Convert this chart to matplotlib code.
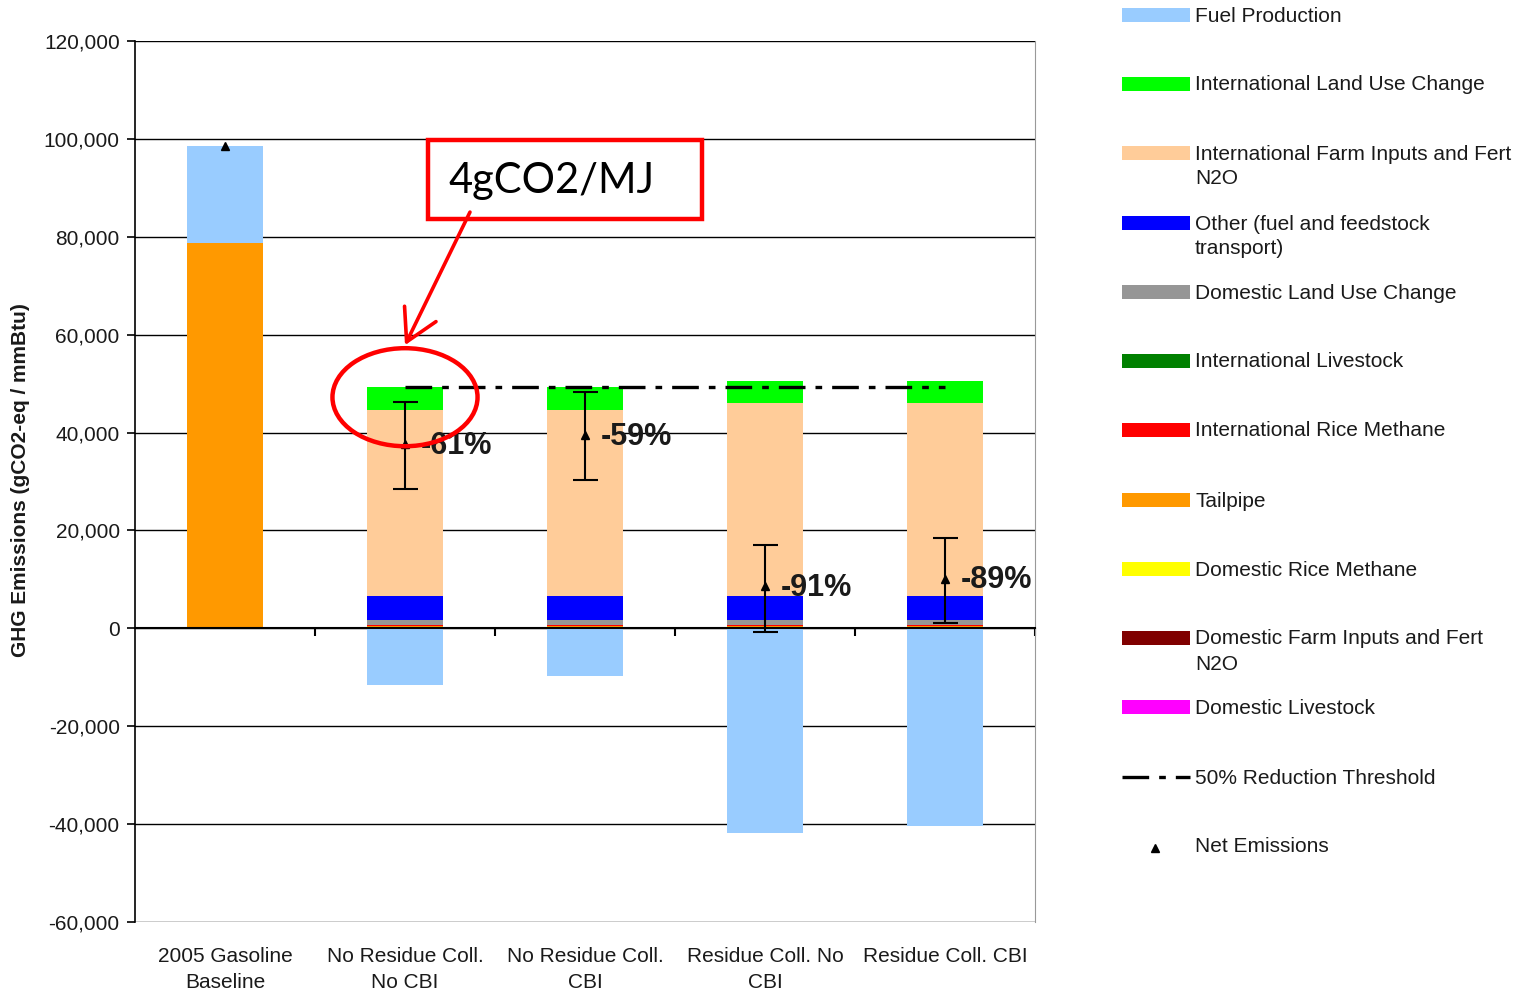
import matplotlib
matplotlib.use("Agg")
import matplotlib.pyplot as plt
from matplotlib.patches import Rectangle, Ellipse, FancyArrowPatch
from matplotlib.lines import Line2D
import matplotlib.transforms as mtransforms
from matplotlib.ticker import FuncFormatter
import numpy as np

plt.rcParams['font.family'] = ['Liberation Sans', 'DejaVu Sans']

categories = ["2005 Gasoline\nBaseline", "No Residue Coll.\nNo CBI", "No Residue Coll.\nCBI",
              "Residue Coll. No\nCBI", "Residue Coll. CBI"]

# stacked components (gCO2-eq / mmBtu)
tailpipe        = [78700, 400, 400, 400, 400]
intl_rice       = [0, 350, 350, 350, 350]
domestic_luc    = [0, 900, 900, 900, 900]
other_transport = [0, 5000, 5000, 5000, 5000]
intl_farm       = [0, 37900, 37900, 39300, 39300]
intl_luc        = [0, 4700, 4700, 4500, 4500]
fuel_production = [19800, -11650, -9800, -41900, -40300]

err_low  = [np.nan, 28400, 30250, -800, 1000]
err_high = [np.nan, 46200, 48200, 17000, 18400]
pct_labels = ["", "-61%", "-59%", "-91%", "-89%"]

legend_labels = ["Fuel Production", "International Land Use Change",
                 "International Farm Inputs and Fert\nN2O", "Other (fuel and feedstock\ntransport)",
                 "Domestic Land Use Change", "International Livestock",
                 "International Rice Methane", "Tailpipe", "Domestic Rice Methane",
                 "Domestic Farm Inputs and Fert\nN2O", "Domestic Livestock",
                 "50% Reduction Threshold", "Net Emissions"]
legend_colors = ["#99CCFF", "#00FF00", "#FFCC99", "#0000FF", "#969696", "#008000",
                 "#FF0000", "#FF9900", "#FFFF00", "#800000", "#FF00FF"]

W, H = 1523, 991
fig = plt.figure(figsize=(W / 100, H / 100), dpi=100)
ax = fig.add_axes([135 / W, 1 - 922 / H, 900 / W, 881 / H])

x = np.arange(len(categories))
bw = 0.42
pos_stack = [(tailpipe, "#FF9900"), (intl_rice, "#FF0000"), (domestic_luc, "#969696"),
             (other_transport, "#0000FF"), (intl_farm, "#FFCC99"), (intl_luc, "#00FF00")]
bottom = np.zeros(len(x))
for vals, col in pos_stack:
    v = np.array(vals, float)
    ax.bar(x, v, bw, bottom=bottom, color=col, zorder=2, linewidth=0)
    bottom += v
fp = np.array(fuel_production, float)
pos_fp = np.where(fp > 0, fp, 0)
neg_fp = np.where(fp < 0, fp, 0)
ax.bar(x, pos_fp, bw, bottom=bottom, color="#99CCFF", zorder=2, linewidth=0)
ax.bar(x, neg_fp, bw, bottom=0, color="#99CCFF", zorder=2, linewidth=0)
net = bottom + fp

# error bars
el = np.array(err_low); eh = np.array(err_high)
m = ~np.isnan(el)
ax.errorbar(x[m], net[m], yerr=[net[m] - el[m], eh[m] - net[m]], fmt='none',
            ecolor='black', elinewidth=1.5, capsize=9, capthick=1.5, zorder=5)
ax.plot(x, net, linestyle='none', marker='^', color='black', markersize=6, zorder=6)

for xi, n, lab in zip(x, net, pct_labels):
    if lab:
        ax.annotate(lab, (xi, n), xytext=(11, -1), textcoords='offset points',
                    ha='left', va='center', fontsize=22, fontweight='bold', color='#1a1a1a', zorder=7)

# threshold
threshold = 0.5 * net[0]
ax.plot([x[1], x[-1]], [threshold, threshold], color='black', lw=2.4,
        linestyle=(0, (8, 3, 2, 3)), zorder=4)

ax.set_xlim(-0.5, len(x) - 0.5)
ax.set_ylim(-60000, 120000)
ax.set_yticks(np.arange(-60000, 120001, 20000))
ax.yaxis.set_major_formatter(FuncFormatter(lambda v, p: f"{int(v):,}"))
ax.grid(axis='y', color='black', linewidth=1.0, zorder=0)
ax.set_axisbelow(True)
ax.tick_params(axis='y', direction='out', length=6, width=1.2, labelsize=15, pad=5, colors='black',
               labelcolor='#1a1a1a')
ax.spines['top'].set_visible(False)
ax.spines['right'].set_color('#999999')
ax.spines['left'].set_linewidth(1.2)
ax.spines['bottom'].set_position(('data', 0))
ax.spines['bottom'].set_linewidth(1.5)
ax.spines['bottom'].set_zorder(4)
ax.set_xticks(np.arange(0.5, len(x), 1.0))
ax.set_xticklabels([])
ax.tick_params(axis='x', direction='out', length=6, width=1.5)

trans = mtransforms.blended_transform_factory(ax.transData, ax.transAxes)
for xi, lab in zip(x, categories):
    ax.text(xi, -0.028, lab, transform=trans, ha='center', va='top', fontsize=15,
            color='#1a1a1a', linespacing=1.5)

fig.text(21 / W, 1 - 480 / H, "GHG Emissions (gCO2-eq / mmBtu)", rotation=90,
         ha='center', va='center', fontsize=15, fontweight='bold', color='#1a1a1a')

# annotation
ax.add_patch(Rectangle((1.128, 83610), 2.65 - 1.128, 99760 - 83610, fill=False,
                       edgecolor='#FF0000', linewidth=3.2, zorder=8))
ax.text(1.239, 91380, "4gCO2/MJ", fontsize=30, family=['Lato', 'DejaVu Sans'],
        ha='left', va='center', color='black', zorder=8)
ax.add_patch(Ellipse((1.0, 47220), 0.806, 20030, fill=False, edgecolor='#FF0000',
                     linewidth=3.2, zorder=8))
ax.add_patch(FancyArrowPatch((1.361, 85040), (1.0, 57850),
                             arrowstyle='->,head_length=0.8,head_width=0.45', mutation_scale=28,
                             color='#FF0000', linewidth=2.6, zorder=8, shrinkA=0, shrinkB=0))

# manual legend
ys = [15, 84, 153, 223, 292, 361, 430, 500, 569, 638, 707, 777, 846]
for i, (lab, yc) in enumerate(zip(legend_labels, ys)):
    if i < len(legend_colors):
        fig.patches.append(Rectangle((1122 / W, 1 - (yc + 7) / H), 68 / W, 14 / H,
                                     transform=fig.transFigure, facecolor=legend_colors[i],
                                     edgecolor='none'))
    elif lab.startswith("50%"):
        fig.lines.append(Line2D([1122 / W, 1190 / W], [1 - yc / H, 1 - yc / H],
                                transform=fig.transFigure, color='black', lw=2.4,
                                linestyle=(0, (8, 3, 2, 3))))
    else:
        fig.lines.append(Line2D([1155 / W], [1 - (yc + 2) / H], transform=fig.transFigure,
                                marker='^', color='black', markersize=6, linestyle='none'))
    for j, line in enumerate(lab.split("\n")):
        fig.text(1195 / W, 1 - (yc + 1 + 25 * j) / H, line, ha='left', va='center',
                 fontsize=15, color='#1a1a1a')

fig.savefig("out.png", dpi=100)
